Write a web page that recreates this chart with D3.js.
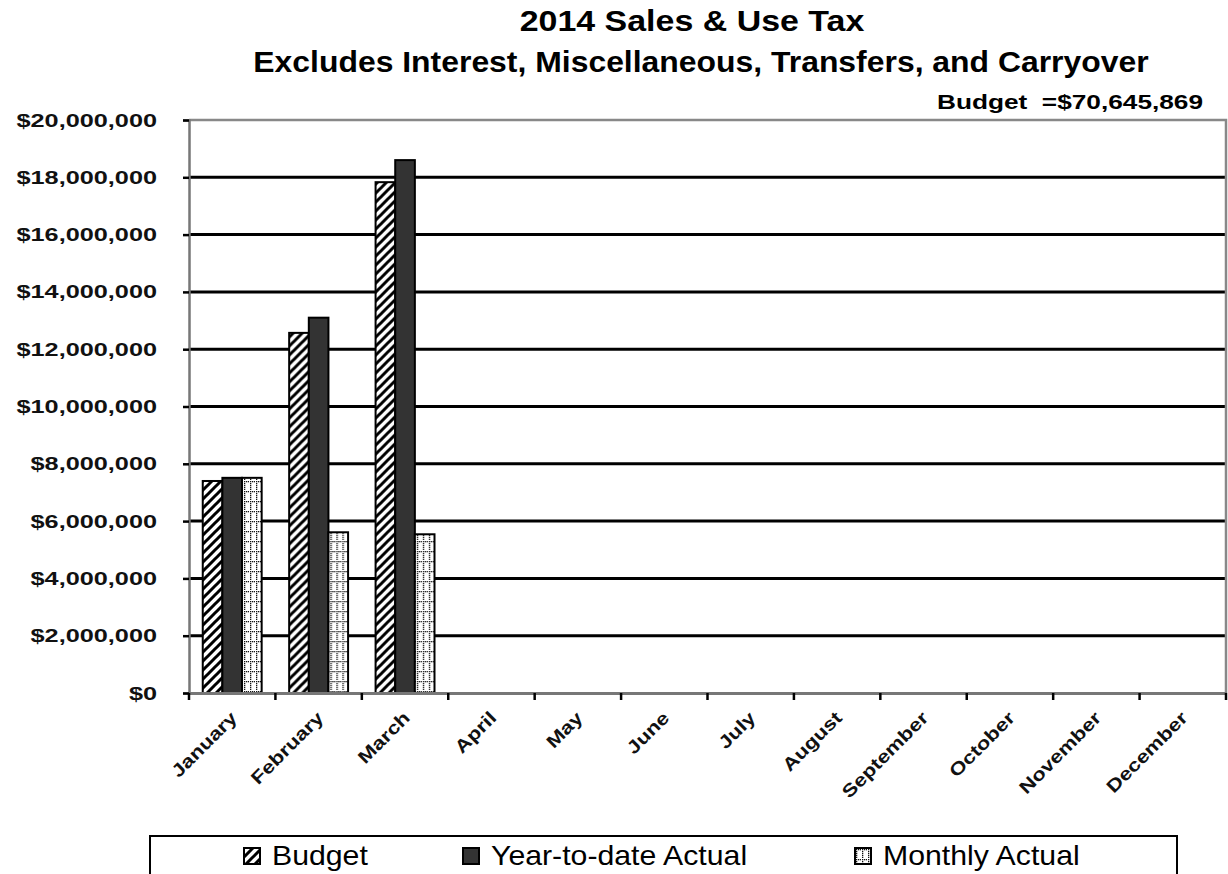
<!DOCTYPE html>
<html lang="en">
  <head>
    <meta charset="UTF-8" />
    <title>2014 Sales & Use Tax</title>
    <style>
      body { margin: 0; background: #fff; }
      text { font-family: "Liberation Sans", Arial, sans-serif; }
    </style>
  </head>
  <body>
    <svg id="chart" width="1228" height="874"></svg>

    <script src="https://d3js.org/d3.v7.min.js"></script>
    <script>
      // data
      const months = ["January", "February", "March", "April", "May", "June",
        "July", "August", "September", "October", "November", "December"];
      const seriesNames = ["Budget", "Year-to-date Actual", "Monthly Actual"];
      const budget = [7400000, 12570000, 17830000];
      const ytdActual = [7510000, 13100000, 18600000];
      const monthlyActual = [7510000, 5610000, 5540000];
      const yTicks = [0, 2e6, 4e6, 6e6, 8e6, 10e6, 12e6, 14e6, 16e6, 18e6, 20e6];

      const svg = d3.select("#chart");
      const plotLeft = 189, plotRight = 1226, plotTop = 120, plotBottom = 693;

      const x0 = d3.scaleBand().domain(months).range([plotLeft, plotRight]);
      const x1 = d3.scaleBand().domain(seriesNames)
        .range([0, x0.bandwidth()]).paddingOuter(0.7);
      const y = d3.scaleLinear().domain([0, 20e6]).range([plotBottom, plotTop]);

      // patterns
      const defs = svg.append("defs");
      const stripes = defs.append("pattern")
        .attr("id", "stripes").attr("patternUnits", "userSpaceOnUse")
        .attr("width", 9).attr("height", 9);
      stripes.append("rect").attr("width", 9).attr("height", 9).attr("fill", "#fff");
      stripes.append("path")
        .attr("d", "M-2,2 l4,-4 M0,9 l9,-9 M7,11 l4,-4")
        .attr("stroke", "#000").attr("stroke-width", 3);

      const dots = defs.append("pattern")
        .attr("id", "dots").attr("patternUnits", "userSpaceOnUse")
        .attr("width", 6).attr("height", 10);
      dots.append("rect").attr("width", 6).attr("height", 10).attr("fill", "#fff");
      [[1, 1], [1, 3], [1, 5], [1, 7], [1, 9], [3, 1], [5, 1]].forEach(p => {
        dots.append("rect").attr("x", p[0]).attr("y", p[1])
          .attr("width", 1.3).attr("height", 1.3).attr("fill", "#111");
      });

      const fills = { "Budget": "url(#stripes)", "Year-to-date Actual": "#333", "Monthly Actual": "url(#dots)" };

      // stretch helper: the original text is drawn a bit wider than the font
      function stretch(sel, k) {
        sel.each(function () {
          const w = this.getComputedTextLength();
          d3.select(this).attr("textLength", w * k).attr("lengthAdjust", "spacingAndGlyphs");
        });
      }

      // gridlines
      svg.append("g").selectAll("line")
        .data(yTicks.filter(d => d > 0 && d < 20e6))
        .enter().append("line")
        .attr("x1", plotLeft).attr("x2", plotRight)
        .attr("y1", d => y(d)).attr("y2", d => y(d))
        .attr("stroke", "#000").attr("stroke-width", 3);

      // plot border top/right
      svg.append("path")
        .attr("d", `M${plotLeft},${y(20e6)} H${plotRight} V${plotBottom}`)
        .attr("fill", "none").attr("stroke", "#888").attr("stroke-width", 2.5);

      // bars
      const rows = months.slice(0, 3).map((m, i) => ({
        month: m,
        values: [
          { key: "Budget", value: budget[i] },
          { key: "Year-to-date Actual", value: ytdActual[i] },
          { key: "Monthly Actual", value: monthlyActual[i] }
        ]
      }));

      svg.append("g")
        .selectAll("g")
        .data(rows)
        .enter()
        .append("g")
        .attr("transform", d => `translate(${x0(d.month)},0)`)
        .selectAll("rect")
        .data(d => d.values)
        .enter()
        .append("rect")
        .attr("x", d => x1(d.key))
        .attr("y", d => y(d.value))
        .attr("width", x1.bandwidth())
        .attr("height", d => y(0) - y(d.value))
        .attr("fill", d => fills[d.key])
        .attr("stroke", "#000")
        .attr("stroke-width", 2);

      // y axis
      const yAxis = svg.append("g").attr("transform", `translate(${plotLeft},0)`)
        .call(d3.axisLeft(y).tickValues(yTicks).tickSize(6).tickPadding(26)
          .tickFormat(d => "$" + d3.format(",")(d)));
      yAxis.select(".domain").attr("stroke", "#777").attr("stroke-width", 2.5);
      yAxis.selectAll(".tick line").attr("stroke", "#000").attr("stroke-width", 2.5);
      yAxis.selectAll("text")
        .attr("font-family", "Liberation Sans, Arial, sans-serif")
        .attr("font-size", 19).attr("font-weight", "bold").attr("fill", "#111")
        .call(stretch, 1.33);

      // x axis
      const xAxis = svg.append("g").attr("transform", `translate(0,${plotBottom})`)
        .call(d3.axisBottom(x0).tickSize(0).tickFormat(""));
      xAxis.select(".domain").attr("stroke", "#777").attr("stroke-width", 3);
      xAxis.selectAll(".tick").remove();
      svg.append("g").selectAll("line")
        .data(months.concat(["end"]))
        .enter().append("line")
        .attr("x1", (d, i) => plotLeft + i * x0.step()).attr("x2", (d, i) => plotLeft + i * x0.step())
        .attr("y1", plotBottom).attr("y2", plotBottom + 7)
        .attr("stroke", "#000").attr("stroke-width", 2.5);

      svg.append("g").selectAll("text")
        .data(months)
        .enter().append("text")
        .attr("transform", d => `translate(${x0(d) + x0.bandwidth() / 2 + 6},${plotBottom + 26}) rotate(-45)`)
        .attr("text-anchor", "end")
        .attr("font-size", 18).attr("font-weight", "bold").attr("fill", "#111")
        .text(d => d)
        .call(stretch, 1.22);

      // titles
      svg.append("text").attr("x", 692).attr("y", 31).attr("text-anchor", "middle")
        .attr("font-size", 29).attr("font-weight", "bold")
        .text("2014 Sales & Use Tax").call(stretch, 1.17);
      svg.append("text").attr("x", 701).attr("y", 72).attr("text-anchor", "middle")
        .attr("font-size", 29).attr("font-weight", "bold")
        .text("Excludes Interest, Miscellaneous, Transfers, and Carryover").call(stretch, 1.1);
      svg.append("text").attr("x", 1203).attr("y", 109).attr("text-anchor", "end")
        .attr("font-size", 20).attr("font-weight", "bold")
        .style("white-space", "pre")
        .text("Budget  =$70,645,869")
        .attr("textLength", 266).attr("lengthAdjust", "spacingAndGlyphs");

      // legend
      const legend = svg.append("g");
      legend.append("rect").attr("x", 150).attr("y", 836).attr("width", 1027).attr("height", 60)
        .attr("fill", "#fff").attr("stroke", "#000").attr("stroke-width", 2);
      const legendX = [244, 463, 855];
      const item = legend.selectAll("g.item").data(seriesNames).enter()
        .append("g").attr("class", "item")
        .attr("transform", (d, i) => `translate(${legendX[i]},848)`);
      item.append("rect").attr("width", 16).attr("height", 16)
        .attr("fill", d => fills[d]).attr("stroke", "#000").attr("stroke-width", 2);
      item.append("text").attr("x", 28).attr("y", 17)
        .attr("font-size", 28).attr("fill", "#000")
        .text(d => d).call(stretch, 1.08);
    </script>
  </body>
</html>
